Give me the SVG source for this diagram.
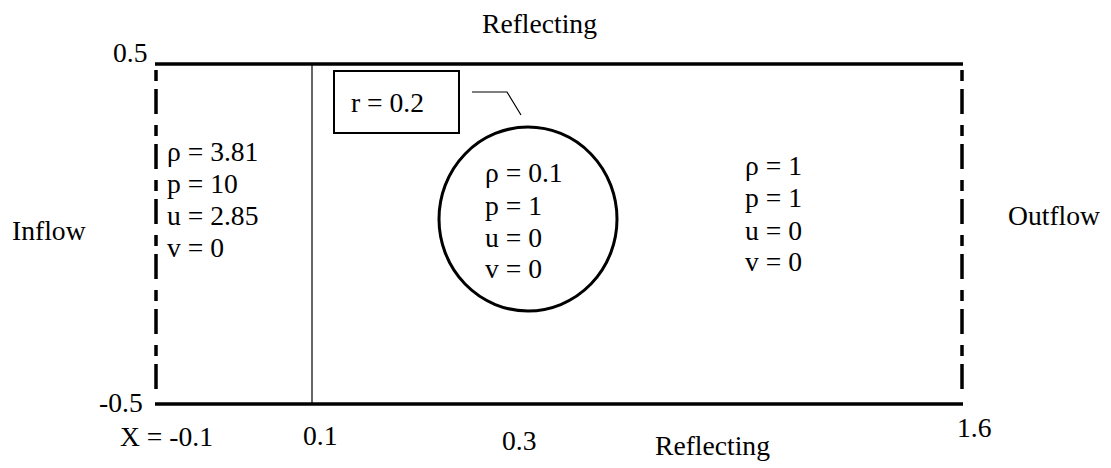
<svg xmlns="http://www.w3.org/2000/svg" width="1111" height="468" viewBox="0 0 1111 468">
<style>
text{font-family:"Liberation Serif","Times New Roman",serif;font-size:27.6px;fill:#000}
.wall{stroke:#000;stroke-width:3.5;fill:none}
.dash{stroke:#000;stroke-width:3.5;fill:none;stroke-dasharray:11 8 25 11}
.thin{stroke:#000;stroke-width:1.2;fill:none}
</style>
<rect width="1111" height="468" fill="#fff"/>
<g id="connectors">
<line class="wall" x1="155" y1="64" x2="963" y2="64"/>
<line class="wall" x1="155" y1="404" x2="963" y2="404"/>
<line class="dash" x1="156" y1="70" x2="156" y2="399"/>
<line class="dash" x1="962" y1="70" x2="962" y2="399"/>
<line class="thin" x1="312" y1="64" x2="312" y2="404"/>
<polyline class="thin" points="472,92 507,92 521,115" stroke-width="1.5"/>
</g>
<g id="labels">
<text x="482" y="33">Reflecting</text>
<text x="655" y="455">Reflecting</text>
<text x="12" y="240">Inflow</text>
<text x="1008" y="225">Outflow</text>
<text x="113" y="62">0.5</text>
<text x="99" y="412">-0.5</text>
<text x="120" y="446">X = -0.1</text>
<text x="303" y="445">0.1</text>
<text x="502" y="450">0.3</text>
<text x="957" y="437">1.6</text>
</g>
<g id="inflow-state">
<text x="167" y="161">ρ = 3.81</text>
<text x="167" y="193">p = 10</text>
<text x="167" y="225">u = 2.85</text>
<text x="167" y="257">v = 0</text>
</g>
<g id="radius-box">
<rect x="334" y="71" width="125" height="62" fill="none" stroke="#000" stroke-width="2"/>
<text x="351" y="112">r = 0.2</text>
</g>
<g id="bubble">
<ellipse cx="528" cy="219" rx="89" ry="92" fill="none" stroke="#000" stroke-width="3"/>
<text x="485" y="182">ρ = 0.1</text>
<text x="485" y="215">p = 1</text>
<text x="485" y="247">u = 0</text>
<text x="485" y="278">v = 0</text>
</g>
<g id="ambient-state">
<text x="745" y="175">ρ = 1</text>
<text x="745" y="207">p = 1</text>
<text x="745" y="240">u = 0</text>
<text x="745" y="271">v = 0</text>
</g>
</svg>
